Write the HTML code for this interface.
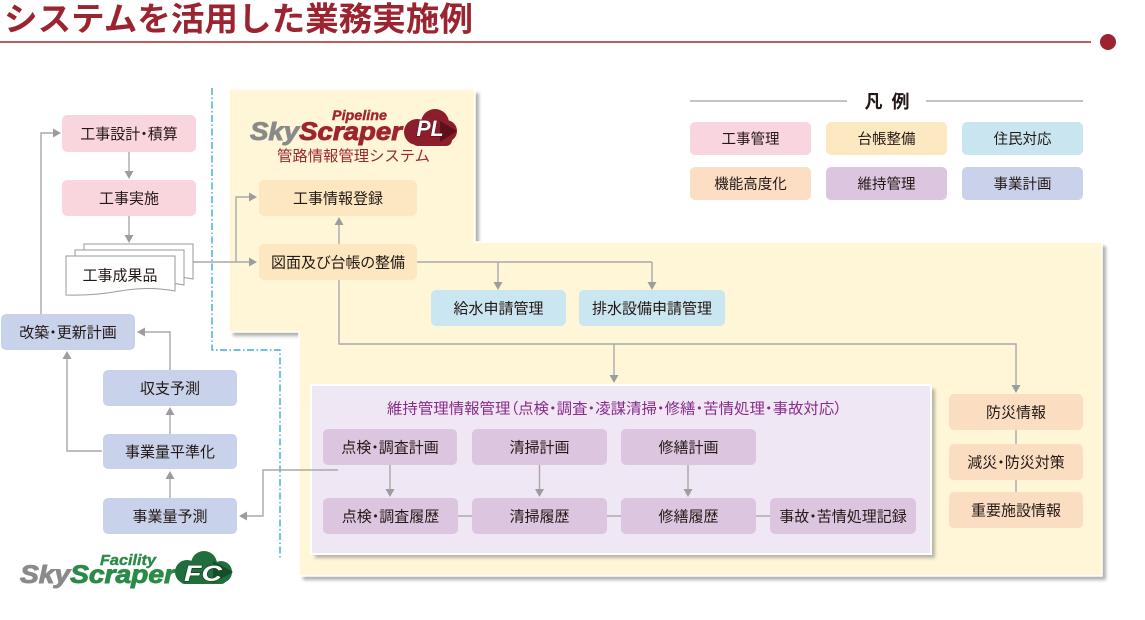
<!DOCTYPE html>
<html><head><meta charset="utf-8">
<style>
html,body{margin:0;padding:0;background:#fff;}
svg{display:block;}
text{font-family:"Liberation Sans","Noto Sans CJK JP",sans-serif;}
.b{font-size:15px;fill:#231815;text-anchor:middle;font-feature-settings:"palt";}
.l{font-size:14.5px;fill:#231815;text-anchor:middle;font-feature-settings:"palt";}
.ln{stroke:#a9a9a9;stroke-width:1.4;fill:none;}
.ah{fill:#9d9d9d;}
.logo{font-family:"Liberation Sans",sans-serif;font-weight:bold;font-style:italic;}
</style></head><body>
<svg width="1145" height="620" viewBox="0 0 1145 620" xmlns="http://www.w3.org/2000/svg">
<defs>
<filter id="bl" x="-5%" y="-5%" width="110%" height="110%"><feGaussianBlur stdDeviation="1.6"/></filter>
</defs>

<!-- Title -->
<text x="4" y="30.5" font-size="33" font-weight="bold" fill="#9b2430" textLength="469" lengthAdjust="spacingAndGlyphs">システムを活用した業務実施例</text>
<line x1="0" y1="42" x2="1091" y2="42" stroke="#a3262f" stroke-width="1.5"/>
<circle cx="1108" cy="42" r="8" fill="#9b2430"/>

<!-- dash-dot boundary -->
<polyline points="212,88 212,350 280,350 280,558" fill="none" stroke="#1a9bd7" stroke-width="1.2" stroke-dasharray="7 2.5 1.5 2.5"/>

<!-- Panels -->
<rect x="233" y="93" width="246" height="243" fill="#b0b0b0" filter="url(#bl)"/>
<rect x="229" y="89" width="246" height="243" fill="#fff6d8" stroke="#fff" stroke-width="1.5"/>
<rect x="303" y="246" width="803" height="334" fill="#b0b0b0" filter="url(#bl)"/>
<rect x="299" y="242" width="803" height="334" fill="#fff6d8" stroke="#fff" stroke-width="1.5"/>
<rect x="230" y="90" width="244" height="241" fill="#fff6d8"/>

<!-- Purple panel -->
<rect x="315" y="389" width="620" height="169" fill="#b8b3a0" filter="url(#bl)"/>
<rect x="311" y="385" width="620" height="169" fill="#efe7f4" stroke="#fff" stroke-width="2"/>

<!-- PL logo -->
<text class="logo" x="332" y="120" font-size="14" fill="#a0262e" stroke="#a0262e" stroke-width="0.4" textLength="55" lengthAdjust="spacingAndGlyphs">Pipeline</text>
<text class="logo" x="250" y="140" font-size="25" stroke-width="0.9" textLength="152" lengthAdjust="spacingAndGlyphs"><tspan fill="#8a8a8a" stroke="#8a8a8a">Sky</tspan><tspan fill="#9c2530" stroke="#9c2530">Scraper</tspan></text>
<g fill="#8c1d2a">
<circle cx="417" cy="132" r="13"/>
<circle cx="435" cy="123" r="14"/>
<circle cx="446" cy="131" r="11"/>
<rect x="412" y="129" width="40" height="17" rx="6"/>
</g>
<polygon points="440,121 457,131 440,142" fill="#5e0f18"/>
<text class="logo" x="430" y="136" font-size="22" fill="#fff" stroke="#5a0d15" stroke-width="1.2" paint-order="stroke" text-anchor="middle" textLength="27" lengthAdjust="spacingAndGlyphs">PL</text>
<text x="277" y="161" font-size="15" fill="#9c2530" textLength="153" lengthAdjust="spacingAndGlyphs">管路情報管理システム</text>

<!-- FC logo -->
<text class="logo" x="100" y="565" font-size="15" fill="#2b8a48" stroke="#2b8a48" stroke-width="0.4" textLength="56" lengthAdjust="spacingAndGlyphs">Facility</text>
<text class="logo" x="20" y="583" font-size="25" stroke-width="0.9" textLength="155" lengthAdjust="spacingAndGlyphs"><tspan fill="#8a8a8a" stroke="#8a8a8a">Sky</tspan><tspan fill="#2b8a48" stroke="#2b8a48">Scraper</tspan></text>
<g fill="#1f6e3c">
<circle cx="187" cy="572" r="12"/>
<circle cx="204" cy="564" r="13"/>
<circle cx="221" cy="572" r="11"/>
<rect x="179" y="568" width="48" height="16" rx="6"/>
</g>
<polygon points="213,561 233,572 213,583" fill="#134e29"/>
<text class="logo" x="203" y="581" font-size="22" fill="#fff" stroke="#0f4020" stroke-width="1.2" paint-order="stroke" text-anchor="middle" textLength="38" lengthAdjust="spacingAndGlyphs">FC</text>

<!-- Legend -->
<line x1="690" y1="101" x2="847" y2="101" stroke="#8a8a8a" stroke-width="1"/>
<line x1="926" y1="101" x2="1083" y2="101" stroke="#8a8a8a" stroke-width="1"/>
<text x="888" y="108" font-size="18" font-weight="bold" fill="#231815" text-anchor="middle" letter-spacing="2">凡 例</text>
<rect x="690" y="122" width="121" height="33" rx="5" fill="#f9d5df"/>
<rect x="826" y="122" width="121" height="33" rx="5" fill="#fde9c1"/>
<rect x="962" y="122" width="121" height="33" rx="5" fill="#c9e6f0"/>
<rect x="690" y="167" width="121" height="33" rx="5" fill="#fbdec3"/>
<rect x="826" y="167" width="121" height="33" rx="5" fill="#dcc6df"/>
<rect x="962" y="167" width="121" height="33" rx="5" fill="#c9d2ea"/>
<text class="l" x="750.5" y="144">工事管理</text>
<text class="l" x="886.5" y="144">台帳整備</text>
<text class="l" x="1022.5" y="144">住民対応</text>
<text class="l" x="750.5" y="189">機能高度化</text>
<text class="l" x="886.5" y="189">維持管理</text>
<text class="l" x="1022.5" y="189">事業計画</text>

<!-- Connectors -->
<g class="ln">
<polyline points="41,314 41,133 54,133"/>
<line x1="129" y1="152" x2="129" y2="172"/>
<line x1="129" y1="216" x2="129" y2="236"/>
<line x1="193" y1="262" x2="250" y2="262"/>
<polyline points="236,262 236,197 250,197"/>
<line x1="339" y1="244" x2="339" y2="224"/>
<line x1="417" y1="262" x2="652" y2="262"/>
<line x1="498" y1="262" x2="498" y2="283"/>
<line x1="652" y1="262" x2="652" y2="283"/>
<polyline points="339,280 339,344 1016,344 1016,386"/>
<line x1="614" y1="344" x2="614" y2="376"/>
<polyline points="338,470 263,470 263,516 247,516"/>
<line x1="170" y1="498" x2="170" y2="478"/>
<line x1="170" y1="434" x2="170" y2="414"/>
<polyline points="170,370 170,332 145,332"/>
<polyline points="102,451 67,451 67,359"/>
<line x1="390" y1="465" x2="390" y2="490"/>
<line x1="539.5" y1="465" x2="539.5" y2="490"/>
<line x1="688" y1="465" x2="688" y2="490"/>
<line x1="458" y1="516" x2="472" y2="516"/>
<line x1="607" y1="516" x2="621" y2="516"/>
<line x1="756" y1="516" x2="770" y2="516"/>
<line x1="1016" y1="430" x2="1016" y2="444"/>
<line x1="1016" y1="480" x2="1016" y2="492"/>
</g>
<g class="ah">
<polygon points="53,128.5 53,137.5 61,133"/>
<polygon points="124.5,171 133.5,171 129,179"/>
<polygon points="124.5,235 133.5,235 129,243"/>
<polygon points="249,257.5 249,266.5 257,262"/>
<polygon points="249,192.5 249,201.5 257,197"/>
<polygon points="334.5,225 343.5,225 339,217"/>
<polygon points="493.5,282 502.5,282 498,290"/>
<polygon points="647.5,282 656.5,282 652,290"/>
<polygon points="1011.5,385 1020.5,385 1016,393"/>
<polygon points="609.5,375 618.5,375 614,383"/>
<polygon points="247,511.5 247,520.5 239,516"/>
<polygon points="165.5,479 174.5,479 170,471"/>
<polygon points="165.5,415 174.5,415 170,407"/>
<polygon points="145,327.5 145,336.5 137,332"/>
<polygon points="62.5,359 71.5,359 67,351"/>
<polygon points="385.5,489 394.5,489 390,497"/>
<polygon points="535,489 544,489 539.5,497"/>
<polygon points="683.5,489 692.5,489 688,497"/>
</g>

<!-- Document stack -->
<g fill="#fff" stroke="#9a9a9a" stroke-width="1">
<path d="M84,244 H193 V279 Q166,274 138,279 T84,282 Z"/>
<path d="M75,250 H184 V285 Q157,280 129,285 T75,288 Z"/>
<path d="M66,256 H175 V291 Q148,286 120,291 T66,295 Z"/>
</g>
<text class="b" x="120" y="280.5">工事成果品</text>

<!-- Pink boxes -->
<rect x="62" y="115" width="134" height="37" rx="5" fill="#f9d5de"/>
<rect x="62" y="180" width="134" height="36" rx="5" fill="#f9d5de"/>
<text class="b" x="129" y="139">工事設計・積算</text>
<text class="b" x="129" y="203.5">工事実施</text>

<!-- Panel boxes -->
<rect x="259" y="180" width="158" height="36" rx="5" fill="#fde7c0"/>
<rect x="259" y="244" width="158" height="36" rx="5" fill="#fde7c0"/>
<text class="b" x="338" y="203.5">工事情報登録</text>
<text class="b" x="338" y="267.5">図面及び台帳の整備</text>

<rect x="431" y="290" width="135" height="36" rx="5" fill="#c9e6f1"/>
<rect x="579" y="290" width="146" height="36" rx="5" fill="#c9e6f1"/>
<text class="b" x="498.5" y="313.5">給水申請管理</text>
<text class="b" x="652" y="313.5">排水設備申請管理</text>

<!-- Purple section -->
<text x="387" y="413.5" font-size="15" fill="#8a2b8c" style="font-feature-settings:'palt'" textLength="455" lengthAdjust="spacingAndGlyphs">維持管理情報管理（点検・調査・凌謀清掃・修繕・苦情処理・事故対応）</text>
<g fill="#dcc6df">
<rect x="323" y="429" width="134" height="36" rx="5"/>
<rect x="472" y="429" width="135" height="36" rx="5"/>
<rect x="621" y="429" width="135" height="36" rx="5"/>
<rect x="323" y="498" width="135" height="36" rx="5"/>
<rect x="472" y="498" width="135" height="36" rx="5"/>
<rect x="621" y="498" width="135" height="36" rx="5"/>
<rect x="770" y="498" width="146" height="36" rx="5"/>
</g>
<text class="b" x="390" y="452.5">点検・調査計画</text>
<text class="b" x="539.5" y="452.5">清掃計画</text>
<text class="b" x="688.5" y="452.5">修繕計画</text>
<text class="b" x="390.5" y="521.5">点検・調査履歴</text>
<text class="b" x="539.5" y="521.5">清掃履歴</text>
<text class="b" x="688.5" y="521.5">修繕履歴</text>
<text class="b" x="843" y="521.5">事故・苦情処理記録</text>

<!-- Disaster column -->
<g fill="#fbdec2">
<rect x="949" y="394" width="134" height="36" rx="5"/>
<rect x="949" y="444" width="134" height="36" rx="5"/>
<rect x="949" y="492" width="134" height="36" rx="5"/>
</g>
<text class="b" x="1016" y="417.5">防災情報</text>
<text class="b" x="1016" y="467.5">減災・防災対策</text>
<text class="b" x="1016" y="515.5">重要施設情報</text>

<!-- Business plan column -->
<g fill="#c8d2ea">
<rect x="1" y="314" width="134" height="36" rx="5"/>
<rect x="103" y="370" width="134" height="36" rx="5"/>
<rect x="103" y="434" width="134" height="35" rx="5"/>
<rect x="103" y="498" width="134" height="36" rx="5"/>
</g>
<text class="b" x="68" y="337.5">改築・更新計画</text>
<text class="b" x="170" y="393.5">収支予測</text>
<text class="b" x="170" y="457">事業量平準化</text>
<text class="b" x="170" y="521.5">事業量予測</text>
</svg>
</body></html>
